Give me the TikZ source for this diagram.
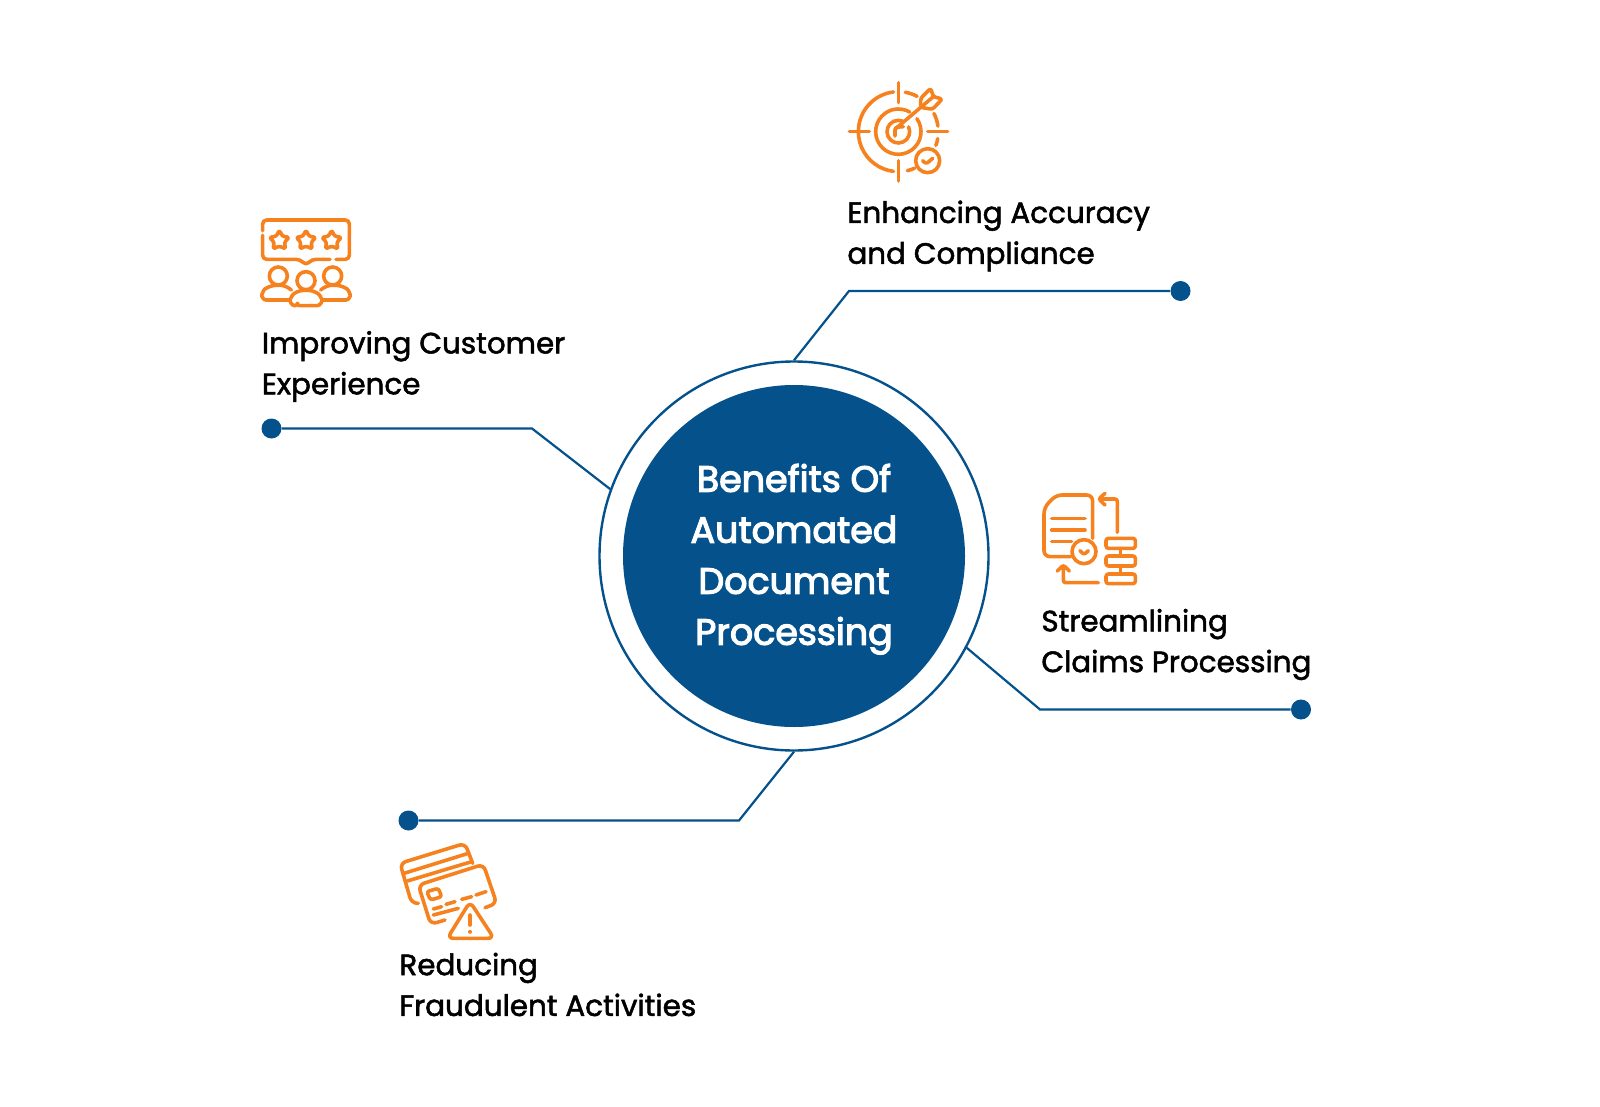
\documentclass[tikz,border=0pt]{standalone}
\usepackage{fontspec}
\setmainfont{Poppins}
\newfontfamily\labelfont{Poppins}[FakeBold=1.8]
\newfontfamily\hubfont{Poppins}[FakeBold=3.2]
\definecolor{hubblue}{HTML}{04518C}
\definecolor{iconorange}{HTML}{F5821F}
\tikzset{
  linkline/.style={draw=hubblue,line width=1.1pt,line join=miter},
  enddot/.style={circle,fill=hubblue,minimum size=10pt,inner sep=0pt},
  hubring/.style={circle,draw=hubblue,line width=1.2pt,minimum size=194.5pt,inner sep=0pt},
  hubdisc/.style={circle,fill=hubblue,minimum size=171pt,inner sep=0pt,text=white,align=center,font=\hubfont\fontsize{18.2}{25.5}\selectfont},
  labeltext/.style={anchor=west,align=left,inner sep=0pt,text=black,font=\labelfont\fontsize{14.7}{20.4}\selectfont},
  iconline/.style={draw=iconorange,line width=1.8pt,line cap=round,line join=round,rounded corners=1.2pt},
}
\begin{document}
\begin{tikzpicture}[x=0.5pt,y=-0.5pt]
\useasboundingbox (0,0) rectangle (1600,1107);
\node[hubring] (hub) at (794,556) {};
\node[hubdisc] (core) at (794,556) {\parbox{115pt}{\centering\vspace*{3.2pt}Benefits Of\\Automated\\Document\\Processing}};
% dots
\node[enddot] (d1) at (1180.5,291) {};
\node[enddot] (d2) at (271.5,428.5) {};
\node[enddot] (d3) at (1301,709.5) {};
\node[enddot] (d4) at (408.5,820.5) {};
\coordinate (k1) at (849,291);
\coordinate (k2) at (532,428.5);
\coordinate (k3) at (1040,709.5);
\coordinate (k4) at (739,820.5);
\draw[linkline] (hub.90) -- (k1) -- (d1);
\draw[linkline] (hub.160.9) -- (k2) -- (d2);
\draw[linkline] (hub.-28) -- (k3) -- (d3);
\draw[linkline] (hub.-90) -- (k4) -- (d4);
% labels
\node[labeltext] (l1) at (847,236) {Enhancing Accuracy\\and Compliance};
\node[labeltext] (l2) at (261.5,366.5) {Improving Customer\\Experience};
\node[labeltext] (l3) at (1041,644.5) {Streamlining\\Claims Processing};
\node[labeltext] (l4) at (399,984.5) {Reducing\\Fraudulent Activities};
% target icon
\begin{scope}[shift={(830,70)},x=0.16667pt,y=0.16667pt]
  \coordinate (c) at (205,-185);
  \draw[iconline] (205,-38) -- (205,-98) (205,-272) -- (205,-333) (58,-185) -- (118,-185) (293,-185) -- (353,-185);
  \draw[iconline] (c) ++(170:120) arc[start angle=170,end angle=97,radius=120];
  \draw[iconline] (c) ++(80:120) arc[start angle=80,end angle=62,radius=120];
  \draw[iconline] (c) ++(27:120) arc[start angle=27,end angle=8,radius=120];
  \draw[iconline] (c) ++(-10:120) arc[start angle=-10,end angle=-20,radius=120];
  \draw[iconline] (c) ++(-97:120) arc[start angle=-97,end angle=-190,radius=120];
  \draw[iconline] (c) ++(-77:120) arc[start angle=-77,end angle=-66,radius=120];
  \draw[iconline] (c) ++(35:68) arc[start angle=35,end angle=-300,radius=68];
  \draw[iconline] (c) ++(25:34) arc[start angle=25,end angle=-290,radius=34];
  \draw[iconline] (197,-176) -- (310,-80);
  \draw[iconline] (195,-198) -- (195,-172) -- (220,-170);
  \draw[iconline] (272,-112) -- (272,-85) -- (302,-55) -- (310,-80) -- (337,-87) -- (307,-118) -- cycle;
  \draw[iconline] (293,-272) circle[radius=36];
  \draw[iconline] (278,-272) -- (288,-282) -- (308,-265);
\end{scope}
% rating icon
\begin{scope}[shift={(250,210)},x=0.16667pt,y=0.16667pt]
  \draw[iconline,rounded corners=2pt] (38,-62) -- (38,-30) -- (298,-30) -- (298,-148) -- (258,-148);
  \draw[iconline,rounded corners=2pt] (240,-148) -- (186,-148) -- (168,-166) -- (150,-148) -- (38,-148) -- (38,-76);
  \foreach \sx in {88,168,245}{
    \draw[iconline] (\sx,-60) -- ({\sx+9},-79) -- ({\sx+30},-82) -- ({\sx+15},-97) -- ({\sx+19},-117) -- (\sx,-108) -- ({\sx-19},-117) -- ({\sx-15},-97) -- ({\sx-30},-82) -- ({\sx-9},-79) -- cycle;
  }
  \draw[iconline] (85,-198) circle[radius=27] (168,-212) circle[radius=27] (248,-198) circle[radius=27];
  \draw[iconline] (118,-270) -- (55,-270) .. controls (40,-270) and (34,-258) .. (38,-248) .. controls (44,-234) and (65,-226) .. (85,-226) .. controls (100,-226) and (112,-230) .. (124,-240);
  \draw[iconline] (218,-270) -- (281,-270) .. controls (296,-270) and (302,-258) .. (298,-248) .. controls (292,-234) and (271,-226) .. (251,-226) .. controls (236,-226) and (224,-230) .. (212,-240);
  \draw[iconline] (142,-287) -- (194,-287) .. controls (212,-287) and (218,-272) .. (212,-262) .. controls (206,-250) and (188,-241) .. (168,-241) .. controls (148,-241) and (130,-250) .. (124,-262) .. controls (118,-272) and (124,-287) .. (142,-287) -- cycle;
\end{scope}
% document icon
\begin{scope}[shift={(1030,485)},x=0.16667pt,y=0.16667pt]
  \draw[iconline,rounded corners=3pt] (188,-160) -- (188,-30) -- (78,-30) -- (42,-68) -- (42,-215) -- (122,-215);
  \draw[iconline] (65,-100) -- (165,-100) (65,-135) -- (165,-135) (65,-170) -- (125,-170);
  \draw[iconline] (162,-200) circle[radius=36];
  \draw[iconline] (150,-197) -- (162,-209) -- (175,-197);
  \draw[iconline] (228,-160) rectangle (316,-190) (228,-213) rectangle (316,-243) (228,-267) rectangle (316,-296);
  \draw[iconline] (272,-190) -- (272,-213) (272,-243) -- (272,-267);
  \draw[iconline] (262,-142) -- (262,-42) -- (208,-42) (225,-25) -- (206,-42) -- (225,-60);
  \draw[iconline] (205,-293) -- (100,-293) -- (100,-242) (82,-258) -- (100,-240) -- (118,-258);
\end{scope}
% card icon
\begin{scope}[shift={(390,835)},x=0.16667pt,y=0.16667pt]
  \draw[iconline,rounded corners=3pt] (85,-205) -- (65,-205) -- (30,-85) -- (225,-25) -- (248,-85);
  \draw[iconline] (42,-115) -- (235,-55) (52,-138) -- (245,-80);
  \draw[iconline,rounded corners=3pt] (165,-255) -- (122,-268) -- (85,-150) -- (280,-88) -- (320,-205) -- (285,-218);
  \draw[iconline] (110,-170) -- (145,-160) -- (155,-185) -- (122,-195) -- cycle;
  \draw[iconline] (215,-193) -- (245,-185) (258,-180) -- (288,-170) (168,-208) -- (195,-200) (130,-222) -- (155,-215) (130,-240) -- (205,-220);
  \draw[iconline,rounded corners=3pt] (240,-200) -- (312,-310) -- (172,-310) -- cycle;
  \draw[iconline] (240,-240) -- (240,-270) (240,-290) -- (240,-291);
\end{scope}
\end{tikzpicture}
\end{document}
